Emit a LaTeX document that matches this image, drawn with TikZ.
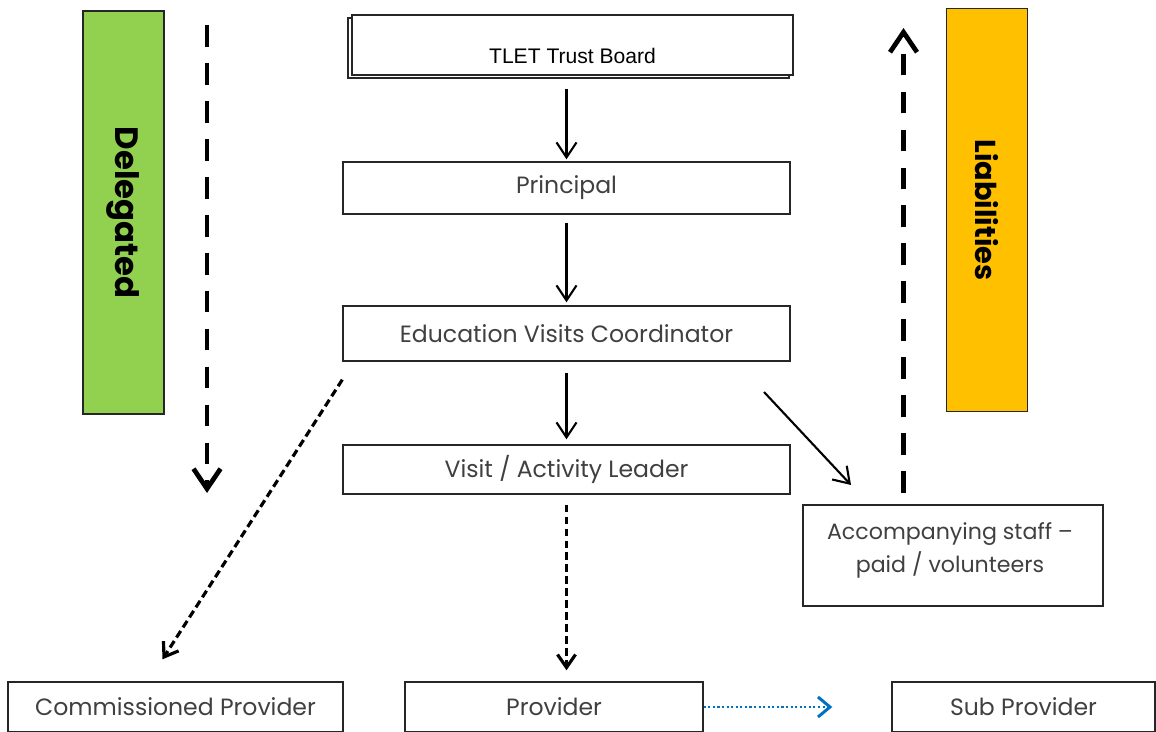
\documentclass[tikz,border=0pt]{standalone}
\usepackage{fontspec}
\usepackage{xcolor}
\setmainfont{Poppins}
\newfontfamily\arialfont{Liberation Sans}
\usetikzlibrary{calc}
\usetikzlibrary{positioning}
\usetikzlibrary{arrows.meta}
\usetikzlibrary{shadows}
\definecolor{delegreen}{HTML}{92D050}
\definecolor{liaborange}{HTML}{FFC000}
\definecolor{linkblue}{HTML}{0070C0}
\definecolor{rolegray}{HTML}{404040}
\def\thickness{0.6pt}
\tikzset{
rolebox/.style 2 args={
	draw=black!85, line width=0.4pt, fill=white,
	text=rolegray, font=\fontsize{6.7}{9.4}\selectfont,
	minimum width=#1, minimum height=#2, inner sep=0pt
},
band/.style 2 args={
	draw=black!85, line width=0.4pt, fill=#1, rotate=-90,
	minimum width=4.03cm, minimum height=0.81cm,
	font=\bfseries\fontsize{#2}{9}\selectfont, inner sep=0pt
},
flow/.style={
	-{Straight Barb[length=1.5mm,width=2mm]}, line width=\thickness
},
bigdash/.style={
	-{Straight Barb[length=2mm,width=2.7mm]}, line width=1.35pt,
	dash pattern=on 6.2pt off 4.6pt
},
thindash/.style={
	-{Straight Barb[length=1.3mm,width=1.8mm]}, line width=0.9pt,
	dash pattern=on 2.2pt off 1.2pt
},
bluedot/.style={
	-{Straight Barb[length=1.2mm,width=2mm]}, line width=0.85pt,
	draw=linkblue, dash pattern=on 0.6pt off 0.7pt
},
}
\begin{document}
\begin{tikzpicture}
\clip (0,0) rectangle (11.56,7.31);
%
\node[rolebox={4.41cm}{0.6cm}, copy shadow={shadow xshift=-0.4mm, shadow yshift=-0.3mm}] (trust) at (5.725,6.86) {};
\node[font=\arialfont\fontsize{6}{7}\selectfont] (trustlbl) at (5.725,6.75) {TLET Trust Board};
\node[rolebox={4.47cm}{0.52cm}] (principal) at (5.665,5.43) {Principal};
\node[rolebox={4.47cm}{0.55cm}] (evc) at (5.665,3.975) {Education Visits Coordinator};
\node[rolebox={4.47cm}{0.49cm}] (leader) at (5.665,2.615) {Visit / Activity Leader};
\node[rolebox={3cm}{1.01cm}] (staff) at (9.53,1.755) {};
\node[text=rolegray, font=\fontsize{6.3}{9.4}\selectfont, align=center] (stafflbl) at (9.5,1.805) {Accompanying staff --\\paid / volunteers};
%
\node[rolebox={3.35cm}{0.5cm}] (commprov) at (1.755,0.24) {Commissioned Provider};
\node[rolebox={2.98cm}{0.5cm}] (prov) at (5.54,0.24) {Provider};
\node[rolebox={2.63cm}{0.5cm}] (subprov) at (10.235,0.24) {Sub Provider};
%
\node[band={delegreen}{9.2}] (deleg) at (1.235,5.185) {Delegated};
\node[band={liaborange}{8.2}] (liab) at (9.87,5.21) {Liabilities};
%
\coordinate (delegtop) at (2.07,7.06);
\coordinate (delegtip) at (2.07,2.38);
\coordinate (liabfoot) at (9.035,2.38);
\coordinate (liabtip) at (9.035,7.03);
\coordinate (diagstart) at ($(evc.south west)+(0,-0.18)$);
\coordinate (diagtip) at ($(commprov.north)+(-0.13,0.22)$);
\coordinate (staffstart) at (7.64,3.39);
\coordinate (stafftip) at (8.51,2.46);
%
\draw[flow, shorten <=1.3mm, shorten >=0.2mm] (principal.north |- trust.south) to (principal.north);
\draw[flow, shorten <=0.8mm, shorten >=0.3mm] (principal.south) to (evc.north);
\draw[flow, shorten <=1.1mm, shorten >=0.5mm] (evc.south) to (leader.north);
\draw[flow] (staffstart) to (stafftip);
%
\draw[thindash] (diagstart) to (diagtip);
\draw[thindash, shorten <=1mm, shorten >=1.1mm] (leader.south) to (leader.south |- prov.north);
\draw[bluedot, shorten >=5.9mm] (prov.east) to (subprov.west);
%
\draw[bigdash] (delegtop) to (delegtip);
\draw[bigdash] (liabfoot) to (liabtip);
\end{tikzpicture}
\end{document}
